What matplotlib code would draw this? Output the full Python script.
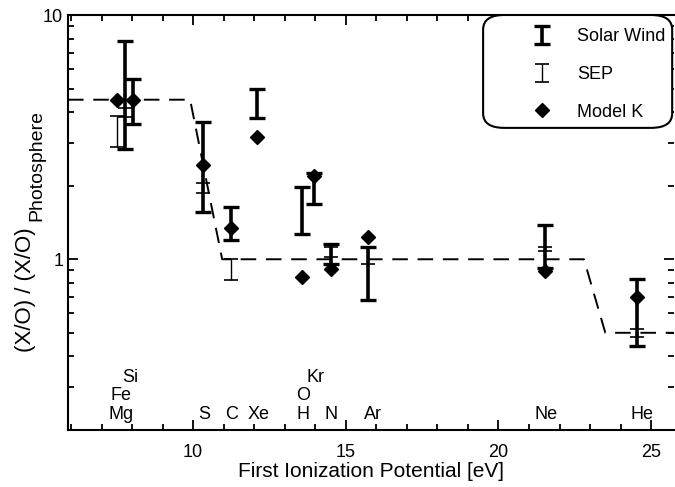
import matplotlib
matplotlib.use("Agg")
import matplotlib.pyplot as plt
from matplotlib.patches import FancyBboxPatch
from matplotlib.ticker import FixedLocator, NullFormatter, FuncFormatter
import numpy as np

plt.rcParams['font.family'] = ['Liberation Sans', 'DejaVu Sans']

# solar wind measurements (thick bars): position [eV], low, high
sw_x = [7.76, 8.04, 10.32, 11.24, 12.09, 13.56, 13.96, 14.51, 15.74, 21.53, 24.55]
sw_lo = [2.82, 3.57, 1.56, 1.20, 3.77, 1.27, 1.69, 0.96, 0.68, 0.92, 0.44]
sw_hi = [7.83, 5.45, 3.65, 1.64, 5.00, 1.97, 2.25, 1.16, 1.12, 1.38, 0.83]

# SEP measurements (thin bars)
sep_x = [7.50, 7.76, 10.32, 11.24, 14.51, 15.74, 21.53, 24.55]
sep_lo = [2.88, 3.83, 1.87, 0.82, 1.02, 0.96, 1.08, 0.48]
sep_hi = [3.85, 4.15, 2.05, 1.00, 1.12, 1.12, 1.12, 0.52]

# Model K predictions
mod_x = [7.50, 8.04, 10.32, 11.24, 12.09, 13.56, 13.96, 14.51, 15.74, 21.53, 24.55]
mod_y = [4.5, 4.5, 2.43, 1.34, 3.17, 0.846, 2.19, 0.916, 1.23, 0.895, 0.70]

# dashed step model
step_x = [5.9, 9.9, 10.95, 22.8, 23.5, 25.8]
step_y = [4.5, 4.5, 1.0, 1.0, 0.5, 0.5]

# element labels along the bottom
lab_names = ['Mg', 'Fe', 'Si', 'S', 'C', 'Xe', 'H', 'O', 'Kr', 'N', 'Ar', 'Ne', 'He']
lab_x = [7.65, 7.65, 7.95, 10.36, 11.26, 12.13, 13.6, 13.6, 14.0, 14.53, 15.9, 21.56, 24.7]
lab_y = [0.232, 0.278, 0.328, 0.232, 0.232, 0.232, 0.232, 0.278, 0.328, 0.232, 0.232, 0.232, 0.232]

fig = plt.figure(figsize=(6.75, 4.87), dpi=100)
ax = fig.add_axes([68 / 675, 57 / 487, 606 / 675, 415 / 487])

ax.plot(step_x, step_y, color='black', lw=1.4, dashes=(8, 5), zorder=1)

sw_err = [np.zeros(len(sw_lo)), np.array(sw_hi) - np.array(sw_lo)]
h_sw = ax.errorbar(sw_x, sw_lo, yerr=sw_err, fmt='none', ecolor='black',
                   elinewidth=2.6, capsize=5.5, capthick=2.4, zorder=3)
sep_err = [np.zeros(len(sep_lo)), np.array(sep_hi) - np.array(sep_lo)]
h_sep = ax.errorbar(sep_x, sep_lo, yerr=sep_err, fmt='none', ecolor='black',
                    elinewidth=1.0, capsize=5, capthick=1.2, zorder=3)
h_mod, = ax.plot(mod_x, mod_y, 'D', color='black', ms=7.5, ls='none', zorder=4)

for name, xx, yy in zip(lab_names, lab_x, lab_y):
    ax.text(xx, yy, name, ha='center', va='center', fontsize=13)

ax.set_yscale('log')
ax.set_xlim(5.9, 25.75)
ax.set_ylim(0.2, 10)

ax.xaxis.set_major_locator(FixedLocator([10, 15, 20, 25]))
ax.xaxis.set_minor_locator(FixedLocator(np.arange(6, 26, 1)))
ax.yaxis.set_major_locator(FixedLocator([1, 10]))
ax.yaxis.set_minor_locator(FixedLocator([0.2, 0.3, 0.4, 0.5, 0.6, 0.7, 0.8, 0.9,
                                         2, 3, 4, 5, 6, 7, 8, 9]))
ax.yaxis.set_major_formatter(FuncFormatter(lambda v, p: '%g' % v))
ax.yaxis.set_minor_formatter(NullFormatter())

ax.tick_params(which='both', direction='in', top=True, right=True, width=1.3, labelsize=13)
ax.tick_params(which='major', length=7)
ax.tick_params(which='minor', length=4)
ax.tick_params(axis='x', pad=10)
for s in ax.spines.values():
    s.set_linewidth(1.5)
ax.spines['right'].set_visible(False)

ax.set_xlabel('First Ionization Potential [eV]', fontsize=15, labelpad=1)
# y label with a large subscript, built from two rotated texts
fig.text(26 / 675, 1 - 352 / 487, '(X/O) / (X/O)', rotation=90,
         ha='center', va='bottom', fontsize=16)
fig.text(37 / 675, 1 - 221 / 487, 'Photosphere', rotation=90,
         ha='center', va='bottom', fontsize=14)

box = FancyBboxPatch((0.685, 0.728), 0.312, 0.272, transform=ax.transAxes,
                     boxstyle='round,pad=0,rounding_size=0.035', facecolor='white',
                     edgecolor='black', lw=1.5, zorder=5)
ax.add_patch(box)
leg = ax.legend([h_sw, h_sep, h_mod], ['Solar Wind', 'SEP', 'Model K'],
                loc='upper left', bbox_to_anchor=(0.769, 0.968), frameon=False,
                fontsize=13, borderpad=0, borderaxespad=0, handlelength=0.9,
                handletextpad=1.5, labelspacing=1.15)
leg.set_zorder(6)

fig.savefig('out.png', dpi=100)
